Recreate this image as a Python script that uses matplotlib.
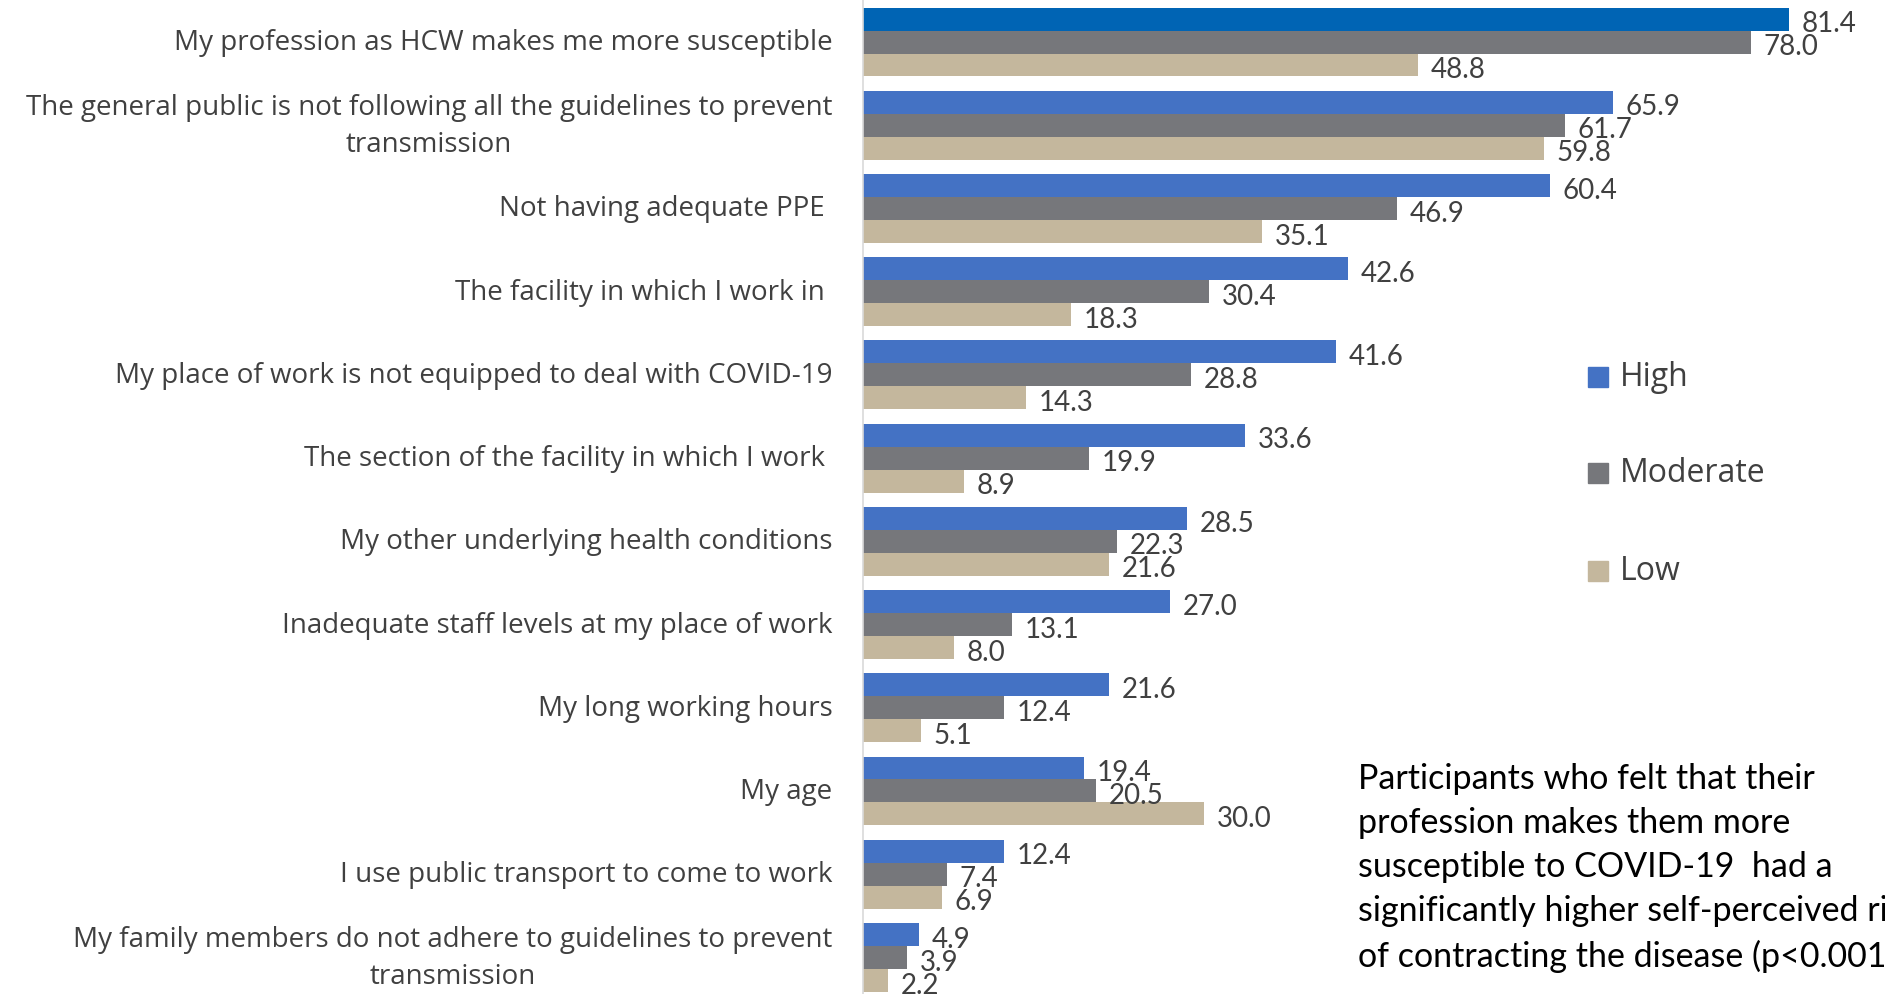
import matplotlib.pyplot as plt
import numpy as np

categories = [
    "My profession as HCW makes me more susceptible",
    "The general public is not following all the guidelines to prevent\ntransmission",
    "Not having adequate PPE ",
    "The facility in which I work in ",
    "My place of work is not equipped to deal with COVID-19",
    "The section of the facility in which I work ",
    "My other underlying health conditions",
    "Inadequate staff levels at my place of work",
    "My long working hours",
    "My age",
    "I use public transport to come to work",
    "My family members do not adhere to guidelines to prevent\ntransmission",
]
high = [81.4, 65.9, 60.4, 42.6, 41.6, 33.6, 28.5, 27.0, 21.6, 19.4, 12.4, 4.9]
moderate = [78.0, 61.7, 46.9, 30.4, 28.8, 19.9, 22.3, 13.1, 12.4, 20.5, 7.4, 3.9]
low = [48.8, 59.8, 35.1, 18.3, 14.3, 8.9, 21.6, 8.0, 5.1, 30.0, 6.9, 2.2]
series_names = ["High", "Moderate", "Low"]

c_high = "#4472C4"
c_high_top = "#0064B4"
c_mod = "#76777B"
c_low = "#C4B79D"
txt = "#404040"

plt.rcParams['font.family'] = ['Lato', 'DejaVu Sans']

fig = plt.figure(figsize=(18.85, 9.95), dpi=100)
ax = fig.add_axes([863 / 1885, 0, 1 - 863 / 1885, 1])

y = np.arange(len(categories))
h = 0.276
hcols = [c_high_top] + [c_high] * (len(high) - 1)
b1 = ax.barh(y - h, high, height=h, color=hcols)
b2 = ax.barh(y, moderate, height=h, color=c_mod)
b3 = ax.barh(y + h, low, height=h, color=c_low)

for bars, vals in [(b1, high), (b2, moderate), (b3, low)]:
    for b, v in zip(bars, vals):
        ax.text(v + 1.1, b.get_y() + b.get_height() / 2 + 0.05, f"{v:.1f}",
                va='center', ha='left', fontsize=20, color=txt)

ax.set_xlim(0, 89.8)
ax.set_ylim(11.44, -0.517)
ax.set_xticks([])
ax.set_yticks([])
for s in ['top', 'right', 'bottom']:
    ax.spines[s].set_visible(False)
ax.spines['left'].set_color('#D9D9D9')
ax.spines['left'].set_linewidth(1.2)

for i, lab in enumerate(categories):
    ax.text(-2.7, i, lab, ha='right', va='center', multialignment='center',
            fontsize=20, color=txt, linespacing=1.45, family='Open Sans')

# legend
leg_y = [378, 474, 572]
for name, col, py in zip(series_names, [c_high, c_mod, c_low], leg_y):
    fy = 1 - py / 995
    fig.patches.append(plt.Rectangle((1588 / 1885, fy - 10 / 995), 20 / 1885, 20 / 995,
                                     transform=fig.transFigure, color=col))
    fig.text(1620 / 1885, fy, name, ha='left', va='center', fontsize=23,
             color=txt, family='Open Sans')

note = ("Participants who felt that their\n"
        "profession makes them more\n"
        "susceptible to COVID-19  had a\n"
        "significantly higher self-perceived risk\n"
        "of contracting the disease (p<0.001)")
fig.text(1358 / 1885, 1 - 868 / 995, note, ha='left', va='center', fontsize=24.5,
         color='black', linespacing=1.47)

fig.savefig("out.png", dpi=100)
